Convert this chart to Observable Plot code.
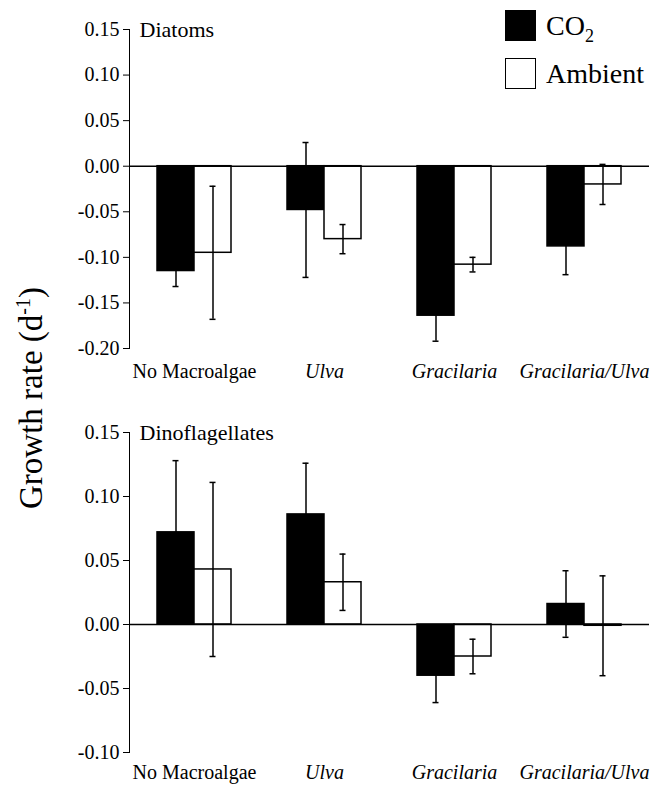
<!DOCTYPE html>
<html><head><meta charset="utf-8">
<script src="https://cdn.jsdelivr.net/npm/d3@7"></script>
<script src="https://cdn.jsdelivr.net/npm/@observablehq/plot@0.6"></script>
<style>
body{margin:0;background:#fff;}
#wrap{position:relative;width:654px;height:786px;font-family:"Liberation Serif","Times New Roman",serif;color:#000;overflow:hidden;}
#top{position:absolute;left:0;top:0;}
#bot{position:absolute;left:0;top:395px;}
#ylab{position:absolute;left:31px;top:398px;transform:translate(-50%,-50%) rotate(-90deg);font-size:33px;white-space:nowrap;line-height:1;}
#ylab sup{font-size:20px;position:relative;top:-2px;vertical-align:top;}
.sw{position:absolute;left:505px;width:29px;height:29px;border:1.5px solid #000;}
.lt{position:absolute;left:546px;font-size:28px;line-height:28px;white-space:nowrap;}
.lt .sub{font-size:18px;position:relative;top:7px;}
</style></head>
<body>
<div id="wrap">
  <div id="top"></div>
  <div id="bot"></div>
  <div id="ylab">Growth rate (d<sup>-1</sup>)</div>
  <div class="sw" style="top:10px;background:#000;"></div>
  <div class="lt" style="top:11.5px;">CO<span class="sub">2</span></div>
  <div class="sw" style="top:58px;background:#fff;"></div>
  <div class="lt" style="top:59.5px;">Ambient</div>
</div>
<script>
const categories = ["No Macroalgae", "Ulva", "Gracilaria", "Gracilaria/Ulva"];
const italicCategories = ["Ulva", "Gracilaria", "Gracilaria/Ulva"];
const treatments = ["CO2", "Ambient"];

// Diatoms
const diatomCO2 = [-0.115, -0.048, -0.164, -0.088];
const diatomCO2Err = [0.017, 0.074, 0.028, 0.031];
const diatomAmb = [-0.095, -0.080, -0.108, -0.020];
const diatomAmbErr = [0.073, 0.016, 0.008, 0.022];
const diatomTicks = [0.15, 0.10, 0.05, 0.00, -0.05, -0.10, -0.15, -0.20];

// Dinoflagellates
const dinoCO2 = [0.072, 0.086, -0.040, 0.016];
const dinoCO2Err = [0.056, 0.040, 0.021, 0.026];
const dinoAmb = [0.043, 0.033, -0.025, -0.001];
const dinoAmbErr = [0.068, 0.022, 0.0135, 0.039];
const dinoTicks = [0.15, 0.10, 0.05, 0.00, -0.05, -0.10];

const SERIF = "Liberation Serif, Times New Roman, serif";

function panel(label, co2, co2e, amb, ambe, ticks, height, mt, mb, catDy) {
  const rows = categories.flatMap((c, i) => [
    {cat: c, trt: "CO2", v: co2[i], e: co2e[i]},
    {cat: c, trt: "Ambient", v: amb[i], e: ambe[i]}
  ]);
  const catRows = categories.map(c => ({cat: c}));
  return Plot.plot({
    width: 654, height,
    marginLeft: 127, marginRight: 4, marginTop: mt, marginBottom: mb,
    style: {fontFamily: SERIF, fontSize: "20px", color: "black", background: "white", overflow: "visible"},
    fx: {domain: categories, padding: 0, axis: null},
    x: {domain: treatments, paddingInner: 0, paddingOuter: 0.72, axis: null},
    y: {domain: d3.extent(ticks), ticks, tickFormat: d => d.toFixed(2), tickSize: 6, tickPadding: 4, line: true, label: null},
    color: {domain: treatments, range: ["#000", "#fff"]},
    marks: [
      Plot.barY(rows, {fx: "cat", x: "trt", y1: 0, y2: "v", fill: "trt", stroke: "black", strokeWidth: 1.5}),
      Plot.ruleX(rows, {fx: "cat", x: "trt", y1: d => d.v - d.e, y2: d => d.v + d.e, stroke: "black", strokeWidth: 1.5}),
      Plot.tickY(rows, {fx: "cat", x: "trt", y: d => d.v - d.e, insetLeft: 15.5, insetRight: 15.5, stroke: "black", strokeWidth: 1.5}),
      Plot.tickY(rows, {fx: "cat", x: "trt", y: d => d.v + d.e, insetLeft: 15.5, insetRight: 15.5, stroke: "black", strokeWidth: 1.5}),
      Plot.ruleY([0], {stroke: "black", strokeWidth: 1.5}),
      Plot.text([{cat: categories[0], t: label}], {fx: "cat", text: "t", frameAnchor: "top-left", dx: 10, textAnchor: "start", lineAnchor: "middle", fontSize: 22}),
      Plot.text(catRows.filter(d => !italicCategories.includes(d.cat)), {fx: "cat", text: "cat", frameAnchor: "bottom", dy: catDy, lineAnchor: "top", fontSize: 20}),
      Plot.text(catRows.filter(d => italicCategories.includes(d.cat)), {fx: "cat", text: "cat", frameAnchor: "bottom", dy: catDy, lineAnchor: "top", fontSize: 20, fontStyle: "italic"})
    ]
  });
}

document.getElementById("top").appendChild(
  panel("Diatoms", diatomCO2, diatomCO2Err, diatomAmb, diatomAmbErr, diatomTicks, 395, 29, 47, 15));
document.getElementById("bot").appendChild(
  panel("Dinoflagellates", dinoCO2, dinoCO2Err, dinoAmb, dinoAmbErr, dinoTicks, 391, 37, 34, 12));
</script>
</body></html>
